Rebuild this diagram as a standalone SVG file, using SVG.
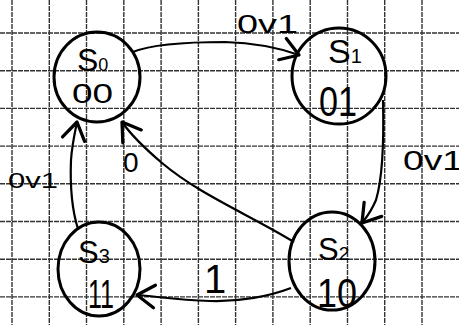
<svg xmlns="http://www.w3.org/2000/svg" width="459" height="325" viewBox="0 0 459 325">
<style>
.grid{stroke:#333;stroke-width:1.4;fill:none;stroke-dasharray:5 1}
.node{fill:none;stroke:#000;stroke-width:3}
.edge{fill:none;stroke:#000;stroke-width:2.2}
.t{font-family:"Liberation Sans",Arial,sans-serif;fill:#000}
.lbl{font-family:"Liberation Sans",Arial,sans-serif;fill:#000}
</style>
<defs>
<marker id="ah" markerUnits="userSpaceOnUse" markerWidth="30" markerHeight="30" refX="0" refY="0" viewBox="-16 -12 20 24" orient="auto" overflow="visible">
<path d="M-14,-9 L0,0 L-14,9" fill="none" stroke="#000" stroke-width="2.6" stroke-linecap="round" stroke-linejoin="round"/>
</marker>
</defs>
<rect width="459" height="325" fill="#fff"/>
<path class="grid" d="M12,0V325M49.3,0V325M86.5,0V325M123.8,0V325M161.1,0V325M198.4,0V325M235.6,0V325M272.9,0V325M310.2,0V325M347.5,0V325M384.7,0V325M422,0V325M0,33H459M0,70.7H459M0,108.4H459M0,146.1H459M0,183.8H459M0,221.5H459M0,259.2H459M0,296.9H459"/>
<g id="connectors">
<path class="edge" marker-end="url(#ah)" d="M133,52 C150,45 180,42 225,42 C260,43 285,50 299,55"/>
<path class="edge" marker-end="url(#ah)" d="M383,100 C384,140 382,180 376,200 C371,212 366,218 362,223"/>
<path class="edge" marker-end="url(#ah)" d="M294,242 C250,215 200,195 162,163 C142,146 129,132 122,122"/>
<path class="edge" marker-end="url(#ah)" d="M78,229 C72,210 70,185 71,160 C72,145 75,132 77,122"/>
<path class="edge" marker-end="url(#ah)" d="M291,288 C270,296 240,302 210,301 C180,300 160,297 137,295"/>
<text class="lbl" x="237" y="33" font-size="25" textLength="61" lengthAdjust="spacingAndGlyphs">0v1</text>
<text class="lbl" x="403" y="170" font-size="27" textLength="60" lengthAdjust="spacingAndGlyphs">0v1</text>
<text class="lbl" x="8" y="188" font-size="22" textLength="50" lengthAdjust="spacingAndGlyphs">0v1</text>
<text class="lbl" x="123" y="172" font-size="28">0</text>
<text class="lbl" x="204" y="293" font-size="40">1</text>
</g>
<g id="S0">
<ellipse class="node" cx="97" cy="77" rx="43" ry="45"/>
<text class="t" x="77" y="71" font-size="32">S<tspan font-size="18">0</tspan></text>
<text class="t" x="72" y="103" font-size="28" textLength="41" lengthAdjust="spacingAndGlyphs">00</text>
</g>
<g id="S1">
<ellipse class="node" cx="339" cy="76" rx="47" ry="48"/>
<text class="t" x="328" y="63" font-size="34">S<tspan font-size="20">1</tspan></text>
<text class="t" x="319" y="116" font-size="42" textLength="38" lengthAdjust="spacingAndGlyphs">01</text>
</g>
<g id="S2">
<ellipse class="node" cx="332" cy="261" rx="43" ry="49"/>
<text class="t" x="318" y="260" font-size="31">S<tspan font-size="19">2</tspan></text>
<text class="t" x="317" y="307" font-size="40" textLength="40" lengthAdjust="spacingAndGlyphs">10</text>
</g>
<g id="S3">
<ellipse class="node" cx="99" cy="269" rx="41" ry="47"/>
<text class="t" x="78" y="263" font-size="31">S<tspan font-size="20">3</tspan></text>
<text class="t" x="88" y="308" font-size="40" textLength="26" lengthAdjust="spacingAndGlyphs">11</text>
</g>
</svg>
